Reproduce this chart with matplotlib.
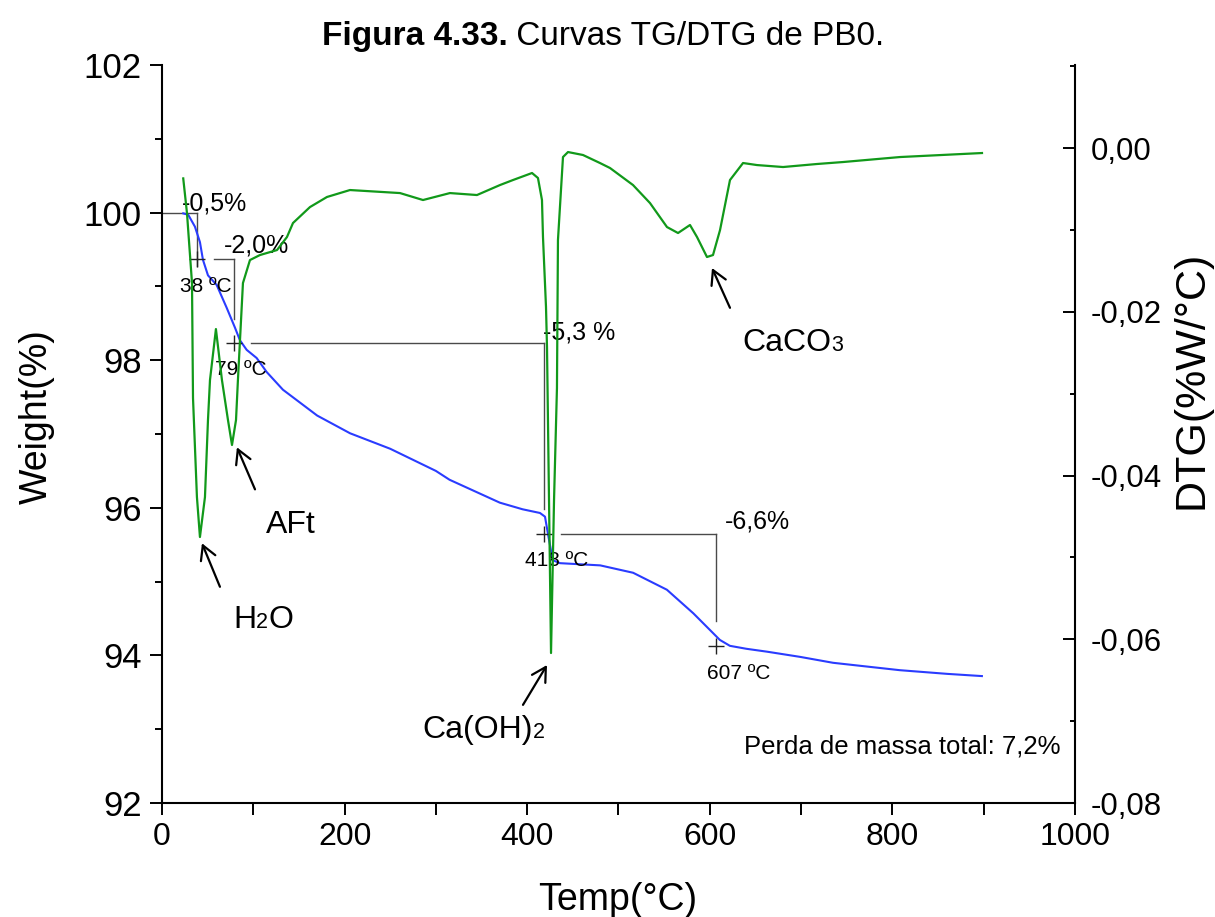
import matplotlib
matplotlib.use("Agg")
import matplotlib.pyplot as plt
from matplotlib.ticker import FixedLocator, FuncFormatter
from matplotlib.offsetbox import TextArea, HPacker, AnnotationBbox

plt.rcParams["font.family"] = ["Liberation Sans", "DejaVu Sans"]

# --- TG curve: temperature (°C) vs residual mass (%) ---
tg_temp = [23.3, 28.8, 36.1, 41.6, 44.9, 50.4, 59.9, 70.9, 80.0, 85.4, 92.8,
           103.7, 114.7, 132.5, 170.0, 206.0, 250.0, 300.0, 315.0, 370.0,
           395.0, 414.0, 419.5, 423.0, 428.0, 436.0, 480.0, 516.0, 553.0,
           582.0, 611.0, 622.0, 640.0, 663.0, 699.0, 735.0, 808.0, 860.0, 898.0]
tg_weight = [99.99, 99.97, 99.81, 99.60, 99.36, 99.15, 99.02, 98.71, 98.44,
             98.27, 98.14, 98.03, 97.84, 97.60, 97.25, 97.01, 96.80, 96.50,
             96.38, 96.07, 95.98, 95.93, 95.88, 95.63, 95.29, 95.25, 95.22,
             95.12, 94.89, 94.57, 94.21, 94.13, 94.09, 94.05, 93.98, 93.90,
             93.80, 93.75, 93.72]

# --- DTG curve: temperature (°C) vs mass-loss rate (%/°C) ---
dtg_temp = [23.3, 27.4, 32.9, 34.0, 38.3, 41.6, 47.1, 50.4, 52.6, 59.1, 65.7,
            72.3, 76.7, 81.1, 83.2, 88.7, 96.4, 107.3, 126.0, 136.9, 143.5,
            162.1, 180.7, 205.9, 260.7, 285.9, 315.4, 345.0, 370.2, 384.4,
            405.3, 411.8, 416.2, 417.3, 420.6, 421.7, 423.9, 426.1, 429.4,
            432.6, 433.7, 439.2, 444.7, 461.1, 479.7, 490.7, 515.9, 534.5,
            553.1, 565.2, 578.3, 586.0, 596.9, 603.5, 611.2, 622.1, 636.4,
            651.7, 680.2, 717.4, 745.9, 808.3, 898.1]
dtg_rate = [-0.00371, -0.00794, -0.01649, -0.03053, -0.04263, -0.04751,
            -0.04263, -0.03322, -0.02834, -0.02211, -0.02834, -0.03322,
            -0.03627, -0.03322, -0.02834, -0.01649, -0.01368, -0.01307,
            -0.01246, -0.01087, -0.00916, -0.00721, -0.00598, -0.00513,
            -0.00550, -0.00635, -0.00550, -0.00574, -0.00452, -0.00391,
            -0.00305, -0.00366, -0.00635, -0.01087, -0.01942, -0.02431,
            -0.04299, -0.06168, -0.04299, -0.02931, -0.01124, -0.00110,
            -0.00049, -0.00085, -0.00183, -0.00244, -0.00452, -0.00672,
            -0.00965, -0.01038, -0.00940, -0.01087, -0.01331, -0.01307,
            -0.01002, -0.00391, -0.00183, -0.00208, -0.00232, -0.00195,
            -0.00171, -0.00110, -0.00061]

# --- mass-loss steps ---
start_weight = 100.0
step_temps = [38, 79, 418, 607]
step_weights = [99.37, 98.23, 95.65, 94.13]
step_labels = ["-0,5%", "-2,0%", "-5,3 %", "-6,6%"]
step_label_pos = [(57, 100.12), (104, 99.56), (456.7, 98.37), (651.7, 95.82)]
temp_labels = ["38 ºC", "79 ºC", "418 ºC", "607 ºC"]
temp_label_pos = [(48.2, 99.0), (86.5, 97.87), (432.6, 95.28), (632, 93.76)]

# --- decomposition events: (text parts), text centre, arrow tail, arrow tip ---
event_parts = [[("H", False), ("2", True), ("O", False)],
               [("AFt", False)],
               [("Ca(OH)", False), ("2", True)],
               [("CaCO", False), ("3", True)]]
event_text_pos = [(110.6, 94.48), (141.3, 95.77), (352.7, 92.99), (691.0, 98.23)]
event_tail = [(63.5, 94.93), (101.9, 96.25), (395.4, 93.33), (622.1, 98.71)]
event_tip = [(43.8, 95.52), (82.1, 96.82), (421.7, 93.87), (602.4, 99.25)]

total_loss_text = "Perda de massa total: 7,2%"

TG_COLOR = "#2a3cff"
DTG_COLOR = "#11991a"
STEP_COLOR = "#4a4a4a"

fig = plt.figure(figsize=(12.15, 9.17), dpi=100)
ax = fig.add_axes([0.1333, 0.1243, 0.7515, 0.8048])
ax2 = ax.twinx()

ax.plot(tg_temp, tg_weight, color=TG_COLOR, lw=1.5, zorder=3)
ax2.plot(dtg_temp, dtg_rate, color=DTG_COLOR, lw=1.6, zorder=3)

# axis ranges and ticks
ax.set_xlim(0, 1000)
ax.set_ylim(92, 102)
ax2.set_ylim(-0.08, 0.01014)

ax.xaxis.set_major_locator(FixedLocator(range(0, 1001, 200)))
ax.xaxis.set_minor_locator(FixedLocator(range(100, 1000, 200)))
ax.yaxis.set_major_locator(FixedLocator(range(92, 103, 2)))
ax.yaxis.set_minor_locator(FixedLocator(range(93, 102, 2)))
ax2.yaxis.set_major_locator(FixedLocator([-0.08, -0.06, -0.04, -0.02, 0.0]))
ax2.yaxis.set_minor_locator(FixedLocator([-0.07, -0.05, -0.03, -0.01, 0.01]))
ax2.yaxis.set_major_formatter(FuncFormatter(lambda v, p: f"{v:.2f}".replace(".", ",").replace("-0,00", "0,00")))

for a in (ax, ax2):
    a.spines["top"].set_visible(False)
    for s in a.spines.values():
        s.set_linewidth(1.5)
ax.spines["right"].set_visible(False)
ax2.spines["left"].set_visible(False)
ax2.spines["bottom"].set_visible(False)

ax.tick_params(axis="x", which="both", direction="out", length=8.5, width=1.4,
               labelsize=23, pad=5, top=False)
ax.tick_params(axis="y", which="major", direction="out", length=8.5, width=1.4,
               labelsize=25, pad=6, right=False)
ax.tick_params(axis="y", which="minor", direction="out", length=5, width=1.4, right=False)
ax2.tick_params(axis="y", which="major", direction="in", length=8.5, width=1.4,
                labelsize=22.5, pad=11)
ax2.tick_params(axis="y", which="minor", direction="in", length=3.8, width=1.4)

# axis titles
fig.text(0.0305, 0.5453, "Weight(%)", rotation=90, ha="center", va="center", fontsize=27)
fig.text(0.5086, 0.019, "Temp(°C)", ha="center", va="center", fontsize=27)
fig.text(0.981, 0.5856, "DTG(%W/°C)", rotation=90, ha="center", va="center", fontsize=31)

# figure caption with bold prefix
cap = HPacker(children=[TextArea("Figura 4.33.", textprops=dict(fontsize=24, fontweight="bold")),
                        TextArea(" Curvas TG/DTG de PB0.", textprops=dict(fontsize=24))],
              align="baseline", pad=0, sep=0)
ax.add_artist(AnnotationBbox(cap, (0.4963, 0.9605), xycoords="figure fraction",
                             frameon=False, box_alignment=(0.5, 0.5), pad=0,
                             annotation_clip=False))

# stepwise mass-loss construction
h_gap = 19.0
v_gap = 0.33
prev_t, prev_w = 0.0, start_weight
for i, (t, w) in enumerate(zip(step_temps, step_weights)):
    x0 = prev_t if i == 0 else prev_t + h_gap
    ax.plot([x0, t], [prev_w, prev_w], color=STEP_COLOR, lw=1.0, zorder=2)
    y_end = w - 0.1 if i == 0 else w + v_gap
    ax.plot([t, t], [prev_w, y_end], color=STEP_COLOR, lw=1.0, zorder=2)
    ax.plot([t], [w], marker="+", ms=12, mew=1.0, color="#222222", zorder=4)
    prev_t, prev_w = t, w

for lab, (x, y) in zip(step_labels, step_label_pos):
    ax.text(x, y, lab, fontsize=18, ha="center", va="center", zorder=5)
for lab, (x, y) in zip(temp_labels, temp_label_pos):
    ax.text(x, y, lab, fontsize=15, ha="center", va="center", zorder=5)

# decomposition events with arrows
for parts, pos, tail, tip in zip(event_parts, event_text_pos, event_tail, event_tip):
    kids = [TextArea(s, textprops=dict(fontsize=15.5 if sub else 23)) for s, sub in parts]
    box = HPacker(children=kids, align="baseline", pad=0, sep=0)
    ax.add_artist(AnnotationBbox(box, pos, xycoords="data", frameon=False,
                                 box_alignment=(0.5, 0.5), pad=0, zorder=5))
    ax.annotate("", xy=tip, xytext=tail, xycoords="data",
                arrowprops=dict(arrowstyle="->,head_length=0.5,head_width=0.28",
                                color="black", lw=1.6, mutation_scale=20,
                                shrinkA=0, shrinkB=0))

ax.text(983.6, 92.77, total_loss_text, fontsize=18.5, ha="right", va="center")

fig.savefig("out.png", dpi=100)
